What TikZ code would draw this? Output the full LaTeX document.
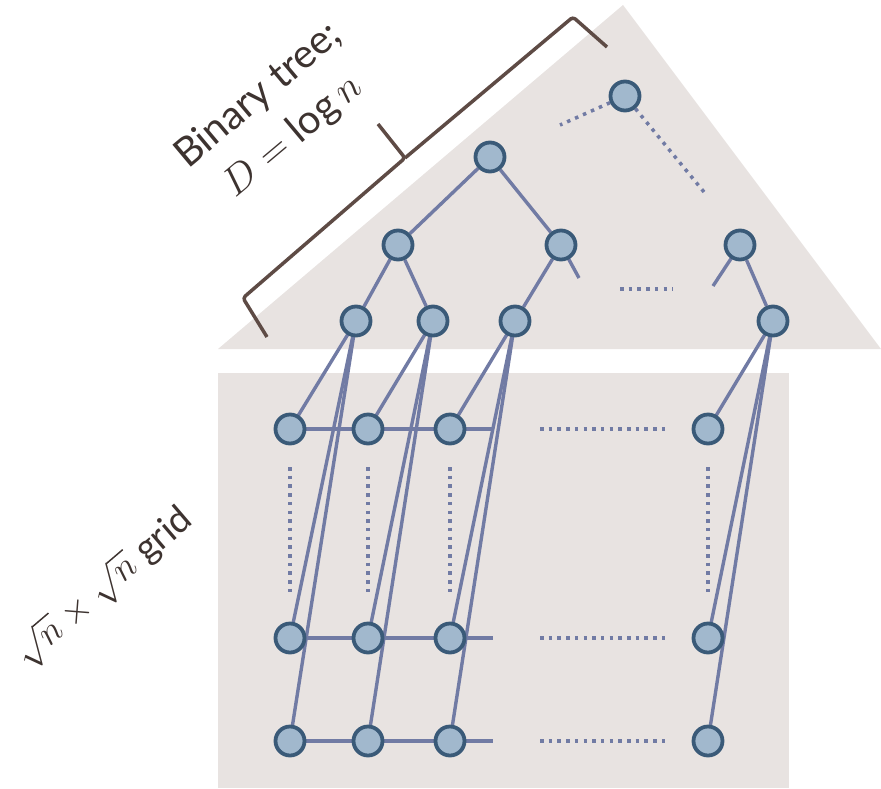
\RequirePackage{fix-cm}
\documentclass[tikz,border=0pt]{standalone}
\usepackage{fontspec}
\setmainfont{Lato}
\usetikzlibrary{backgrounds}
\definecolor{bggray}{HTML}{E8E3E1}
\definecolor{nodefill}{HTML}{A1B8CD}
\definecolor{nodeborder}{HTML}{3A5A78}
\definecolor{edgecol}{HTML}{717BA4}
\definecolor{bracecol}{HTML}{5E4B45}
\definecolor{txtcol}{HTML}{3D3330}
\pgfdeclarelayer{bglayer}
\pgfdeclarelayer{edgelayer}
\pgfsetlayers{bglayer,edgelayer,main}
\tikzset{
  vert/.style={circle, draw=nodeborder, fill=nodefill, line width=3.8pt, minimum size=29pt, inner sep=0pt},
  edge/.style={draw=edgecol, line width=3.4pt},
  dotedge/.style={draw=edgecol, line width=3.5pt, dash pattern=on 3.5pt off 5.2pt},
  label/.style={text=txtcol, font=\fontsize{40}{53}\selectfont, align=center, inner sep=0pt},
  bracestyle/.style={draw=bracecol, line width=3.5pt, line join=round, rounded corners=3pt}
}
\begin{document}
\begin{tikzpicture}[x=1pt,y=-1pt]
\useasboundingbox (0,0) rectangle (881,788);
% tree nodes
\node[vert] (t0) at (625,96) {};
\node[vert] (r) at (490,157) {};
\node[vert] (a) at (398,245) {};
\node[vert] (b) at (561,245) {};
\node[vert] (l1) at (356,321) {};
\node[vert] (l2) at (433,321) {};
\node[vert] (l3) at (515,321) {};
\node[vert] (c) at (740,245) {};
\node[vert] (l4) at (773,321) {};
% grid nodes
\foreach \col/\x in {1/290,2/368,3/450,4/708}{
  \foreach \row/\y in {1/429,2/638,3/741}{
    \node[vert] (g\col\row) at (\x,\y) {};
  }
}
% free ends
\coordinate (t0l) at (560,125);
\coordinate (t0r) at (704,192);
\coordinate (bs) at (579,278);
\coordinate (cs) at (713,286);
\coordinate (md1) at (620,289);
\coordinate (md2) at (673,289);
\begin{pgfonlayer}{bglayer}
  \fill[bggray] (218,349) -- (623,5) -- (881,349) -- cycle;
  \fill[bggray] (218,373) rectangle (789,788);
\end{pgfonlayer}
\begin{pgfonlayer}{edgelayer}
  % tree
  \draw[edge] (r) -- (a);
  \draw[edge] (r) -- (b);
  \draw[edge] (a) -- (l1);
  \draw[edge] (a) -- (l2);
  \draw[edge] (b) -- (l3);
  \draw[edge] (b.center) -- (bs);
  \draw[edge] (c) -- (l4);
  \draw[edge] (c.center) -- (cs);
  \draw[dotedge] (t0) -- (t0l);
  \draw[dotedge] (t0) -- (t0r);
  \draw[dotedge] (md1) -- (md2);
  % leaves to grid
  \foreach \k in {1,2,3,4}{
    \foreach \row in {1,2,3}{
      \draw[edge] (l\k.center) -- (g\k\row.center);
    }
  }
  % grid rows
  \foreach \row/\y in {1/429,2/638,3/741}{
    \coordinate (stub\row) at (493,\y);
    \coordinate (da\row) at (540,\y);
    \coordinate (db\row) at (665,\y);
    \draw[edge] (g1\row.center) -- (g2\row.center) -- (g3\row.center) -- (stub\row);
    \draw[dotedge] (da\row) -- (db\row);
  }
  % grid columns
  \foreach \col/\x in {1/290,2/368,3/450,4/708}{
    \coordinate (va\col) at (\x,467);
    \coordinate (vb\col) at (\x,595);
    \draw[dotedge] (va\col) -- (vb\col);
  }
\end{pgfonlayer}
% brace
\coordinate (br1) at (267,337);
\coordinate (br2) at (243,298);
\coordinate (brj) at (405,158);
\coordinate (brt) at (378,124);
\coordinate (br3) at (573,17);
\coordinate (br4) at (607,47);
\draw[bracestyle] (br1) -- (br2) -- (brj) -- (brt);
\draw[bracestyle] (brj) -- (br3) -- (br4);
% labels
\node[label, rotate=40] (treelabel) at (276,116) {Binary tree;\\$D=\log n$};
\node[label, rotate=40.5, font=\fontsize{37}{45}\selectfont] (gridlabel) at (104,588) {$\sqrt{n}\times\sqrt{n}$ grid};
\end{tikzpicture}
\end{document}
